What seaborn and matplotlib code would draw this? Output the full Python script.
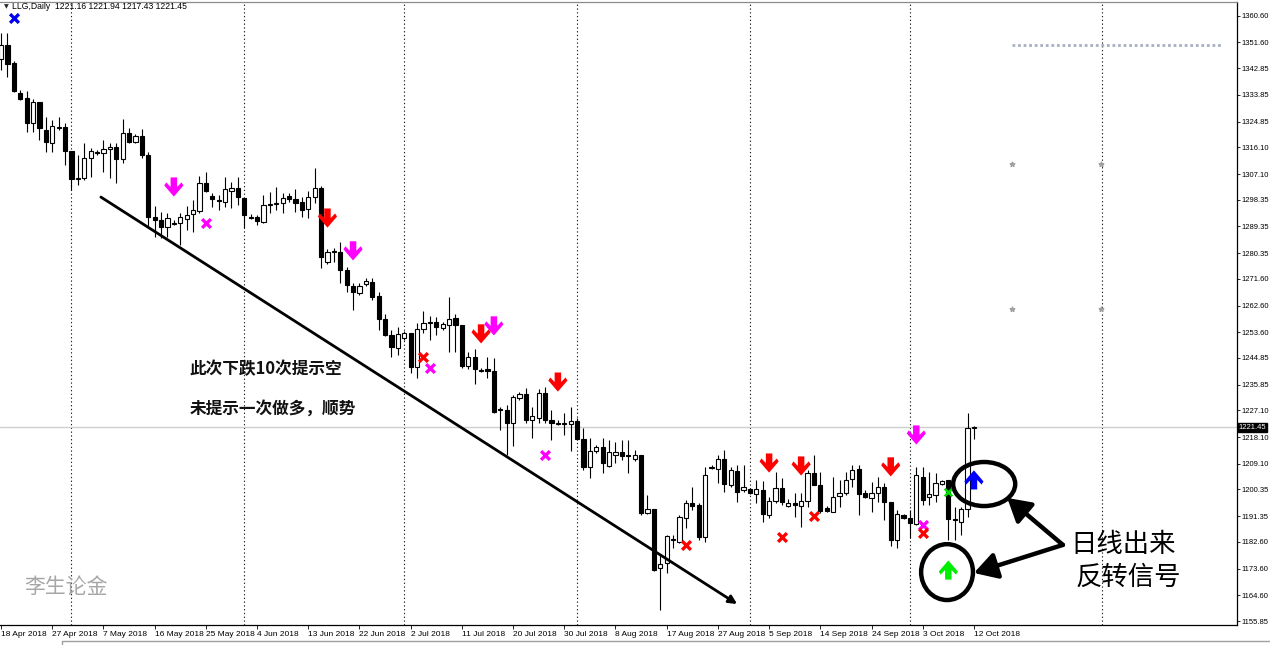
import numpy as np
import matplotlib
matplotlib.use("Agg")
import matplotlib.pyplot as plt
import seaborn as sns
from matplotlib.path import Path
from matplotlib.patches import Ellipse
from matplotlib.lines import Line2D
from matplotlib.transforms import ScaledTranslation, blended_transform_factory

# daily candles, 18 Apr 2018 .. 12 Oct 2018 (one bar per slot, Sundays included)
opens = [
    1346.0, 1350.8, 1344.7, 1334.5, 1332.8, 1324.4, 1331.5, 1322.0, 1317.6, 1322.7,
    1323.0, 1314.9, 1305.4, 1305.8, 1312.5, 1314.6, 1314.2, 1315.6, 1316.3, 1312.2,
    1321.0, 1318.0, 1320.0, 1313.6, 1292.6, 1291.6, 1289.2, 1290.2, 1290.5, 1291.9,
    1293.6, 1294.6, 1304.1, 1299.7, 1298.3, 1297.6, 1301.4, 1302.4, 1299.0, 1292.6,
    1292.6, 1290.9, 1296.6, 1297.0, 1297.3, 1299.7, 1298.7, 1297.6, 1295.3, 1299.3,
    1302.4, 1277.3, 1280.7, 1280.7, 1274.6, 1269.2, 1266.9, 1269.9, 1270.6, 1265.8,
    1258.1, 1252.6, 1248.2, 1251.6, 1253.3, 1241.8, 1254.7, 1256.7, 1257.0, 1255.0,
    1256.0, 1258.4, 1256.0, 1242.2, 1245.2, 1240.8, 1241.1, 1240.5, 1227.3, 1227.3,
    1222.9, 1231.3, 1232.7, 1223.9, 1224.6, 1233.0, 1223.9, 1222.9, 1222.5, 1222.5,
    1223.5, 1217.5, 1208.0, 1213.4, 1214.7, 1208.3, 1212.0, 1213.0, 1212.0, 1210.7,
    1212.0, 1192.4, 1193.8, 1173.8, 1175.5, 1183.3, 1182.6, 1190.7, 1195.8, 1195.1,
    1184.3, 1207.6, 1207.3, 1210.7, 1201.9, 1206.6, 1200.2, 1200.5, 1198.8, 1200.2,
    1191.7, 1196.5, 1200.9, 1194.8, 1195.8, 1194.8, 1196.5, 1205.9, 1201.9, 1194.1,
    1192.7, 1198.2, 1199.2, 1203.9, 1207.3, 1199.2, 1197.5, 1199.2, 1201.2, 1196.1,
    1183.3, 1191.7, 1190.7, 1188.7, 1204.6, 1197.8, 1198.5, 1202.2, 1203.6, 1190.4,
    1189.4, 1193.8, 1221.16,
]
highs = [
    1354.8, 1354.8, 1345.4, 1335.6, 1335.2, 1332.5, 1331.5, 1326.4, 1325.4, 1326.4,
    1324.4, 1314.9, 1313.6, 1317.6, 1315.9, 1315.3, 1318.6, 1317.6, 1317.6, 1325.7,
    1322.7, 1320.7, 1322.4, 1314.6, 1296.3, 1294.3, 1293.9, 1291.6, 1293.9, 1296.3,
    1298.3, 1306.4, 1307.8, 1300.7, 1300.0, 1306.1, 1304.4, 1306.1, 1299.0, 1293.6,
    1293.2, 1300.0, 1301.0, 1302.7, 1300.7, 1300.7, 1302.0, 1299.3, 1301.4, 1309.2,
    1303.1, 1281.7, 1282.1, 1284.1, 1275.7, 1270.2, 1270.2, 1271.9, 1271.9, 1267.2,
    1259.8, 1254.3, 1255.3, 1254.0, 1253.3, 1256.7, 1260.8, 1259.1, 1258.7, 1257.0,
    1265.5, 1259.8, 1256.0, 1246.9, 1247.9, 1241.5, 1245.2, 1244.9, 1228.3, 1229.0,
    1232.3, 1233.4, 1234.7, 1228.3, 1234.4, 1235.0, 1227.3, 1223.9, 1226.3, 1228.3,
    1224.6, 1221.2, 1217.8, 1215.4, 1217.8, 1217.1, 1216.4, 1217.1, 1217.1, 1213.7,
    1212.0, 1198.5, 1193.8, 1178.2, 1185.0, 1185.0, 1191.7, 1196.8, 1201.2, 1195.8,
    1208.0, 1208.7, 1212.0, 1213.7, 1208.0, 1208.7, 1208.7, 1200.9, 1203.6, 1203.2,
    1197.8, 1206.3, 1204.3, 1197.1, 1199.2, 1199.2, 1207.0, 1212.0, 1206.3, 1194.8,
    1204.6, 1203.6, 1206.3, 1208.7, 1208.7, 1200.2, 1202.9, 1204.6, 1202.6, 1196.1,
    1193.4, 1192.1, 1193.4, 1208.0, 1208.0, 1206.3, 1205.9, 1203.6, 1203.6, 1194.4,
    1194.4, 1226.3, 1221.94,
]
lows = [
    1342.3, 1340.0, 1334.9, 1332.2, 1321.3, 1321.3, 1318.6, 1314.6, 1314.6, 1322.0,
    1310.2, 1301.7, 1303.4, 1305.1, 1306.1, 1313.6, 1307.8, 1305.8, 1304.1, 1310.8,
    1317.6, 1317.6, 1312.5, 1289.2, 1285.8, 1285.5, 1285.8, 1289.9, 1283.1, 1288.2,
    1287.5, 1293.9, 1301.0, 1296.0, 1294.9, 1296.0, 1295.6, 1296.6, 1288.8, 1291.9,
    1289.9, 1290.5, 1293.9, 1294.9, 1293.9, 1297.6, 1294.3, 1292.6, 1292.2, 1297.3,
    1275.3, 1276.7, 1277.3, 1270.2, 1267.2, 1261.1, 1266.2, 1269.2, 1264.5, 1254.3,
    1252.3, 1245.2, 1245.9, 1250.9, 1239.8, 1238.1, 1253.3, 1250.9, 1252.6, 1254.3,
    1246.9, 1246.9, 1241.5, 1241.1, 1236.1, 1240.1, 1238.1, 1226.3, 1220.5, 1212.0,
    1215.1, 1230.6, 1222.9, 1217.8, 1222.9, 1222.9, 1217.1, 1222.2, 1218.8, 1213.4,
    1217.1, 1207.0, 1204.3, 1212.7, 1205.9, 1208.0, 1209.3, 1210.3, 1205.9, 1210.0,
    1191.7, 1192.1, 1172.8, 1159.6, 1172.1, 1180.6, 1182.3, 1187.3, 1193.4, 1183.3,
    1182.6, 1207.3, 1202.6, 1199.5, 1201.2, 1196.1, 1199.5, 1198.8, 1195.8, 1189.4,
    1190.7, 1195.8, 1195.1, 1194.4, 1191.1, 1187.7, 1194.4, 1201.9, 1192.4, 1192.7,
    1192.7, 1194.4, 1198.5, 1201.2, 1191.7, 1197.5, 1192.7, 1196.1, 1190.0, 1181.2,
    1180.6, 1190.4, 1184.0, 1188.4, 1195.1, 1195.1, 1196.1, 1201.9, 1183.3, 1183.3,
    1185.0, 1191.1, 1217.43,
]
closes = [
    1350.8, 1344.4, 1335.2, 1332.5, 1324.4, 1331.5, 1322.7, 1318.0, 1323.4, 1323.0,
    1314.9, 1305.4, 1305.8, 1312.5, 1314.9, 1314.2, 1315.6, 1316.3, 1312.2, 1321.0,
    1318.0, 1320.0, 1313.6, 1292.6, 1291.6, 1289.2, 1292.2, 1290.5, 1292.6, 1293.2,
    1294.9, 1304.1, 1301.4, 1298.7, 1298.0, 1302.0, 1302.4, 1299.3, 1293.2, 1292.2,
    1291.2, 1296.6, 1297.0, 1297.3, 1299.0, 1298.7, 1297.3, 1294.9, 1299.3, 1302.4,
    1279.0, 1280.7, 1281.1, 1274.6, 1269.6, 1267.2, 1269.2, 1270.9, 1265.5, 1258.1,
    1252.6, 1248.6, 1253.0, 1253.3, 1241.8, 1254.7, 1256.7, 1257.0, 1255.3, 1256.4,
    1258.1, 1256.0, 1242.2, 1245.2, 1241.1, 1240.5, 1240.5, 1226.6, 1227.6, 1222.9,
    1231.7, 1232.7, 1223.9, 1225.2, 1233.0, 1223.9, 1222.9, 1222.5, 1222.9, 1223.5,
    1217.5, 1208.0, 1213.4, 1214.7, 1209.3, 1213.0, 1213.0, 1211.7, 1211.7, 1212.0,
    1192.4, 1193.8, 1173.1, 1175.2, 1184.6, 1183.6, 1191.1, 1195.8, 1194.8, 1184.3,
    1205.3, 1208.0, 1210.7, 1202.2, 1207.0, 1199.5, 1201.2, 1199.2, 1200.5, 1192.1,
    1196.5, 1200.9, 1196.1, 1195.8, 1195.1, 1196.5, 1205.9, 1201.9, 1193.1, 1193.1,
    1197.8, 1199.2, 1203.6, 1207.0, 1198.8, 1197.8, 1199.2, 1201.2, 1196.1, 1183.3,
    1192.1, 1190.7, 1189.0, 1205.3, 1196.8, 1198.8, 1202.6, 1203.2, 1190.4, 1190.0,
    1193.8, 1221.2, 1221.45,
]

date_labels = ["18 Apr 2018", "27 Apr 2018", "7 May 2018", "16 May 2018", "25 May 2018",
               "4 Jun 2018", "13 Jun 2018", "22 Jun 2018", "2 Jul 2018", "11 Jul 2018",
               "20 Jul 2018", "30 Jul 2018", "8 Aug 2018", "17 Aug 2018", "27 Aug 2018",
               "5 Sep 2018", "14 Sep 2018", "24 Sep 2018", "3 Oct 2018", "12 Oct 2018"]
price_ticks = [1360.60, 1351.60, 1342.85, 1333.85, 1324.85, 1316.10, 1307.10, 1298.35,
               1289.35, 1280.35, 1271.60, 1262.60, 1253.60, 1244.85, 1235.85, 1227.10,
               1218.10, 1209.10, 1200.35, 1191.35, 1182.60, 1173.60, 1164.60, 1155.85]
month_starts = [11, 38, 63, 90, 117, 142, 172]
last_price = 1221.45

# indicator signals (bar index, price)
magenta_down_x = [27, 55, 77, 143]
magenta_down_y = [1302.7, 1281.1, 1255.7, 1218.8]
red_down_x = [51, 75, 87, 120, 125, 139]
red_down_y = [1292.2, 1253.0, 1236.7, 1209.3, 1208.3, 1208.0]
magenta_cross_x = [32, 67, 85, 144]
magenta_cross_y = [1290.5, 1241.5, 1212.0, 1188.4]
red_cross_x = [66, 107, 122, 127, 144]
red_cross_y = [1245.2, 1181.6, 1184.3, 1191.4, 1185.6]
blue_up_x, blue_up_y = [152], [1203.6]
green_up_x, green_up_y = [148], [1173.1]

sns.set_style("white")
plt.rcParams["font.family"] = ["Liberation Sans", "Noto Sans CJK SC", "DejaVu Sans"]

fig = plt.figure(figsize=(12.7, 6.45), dpi=100)
ax = fig.add_axes([0, 20 / 645, 1237 / 1270, 623 / 645])

o = np.array(opens); h = np.array(highs); l = np.array(lows); c = np.array(closes)
x = np.arange(len(c))
up = c >= o

# candles
ax.vlines(x, l, h, color="black", lw=0.8, zorder=3)
body_lo = np.minimum(o, c)
body_h = np.maximum(np.abs(c - o), 0.3)
ax.bar(x, body_h, bottom=body_lo, width=0.66, color=np.where(up, "white", "black"),
       edgecolor="black", linewidth=0.8, zorder=4)

for m in month_starts:
    ax.axvline(m, color="#222222", lw=0.8, ls=(0, (1.2, 2.2)), zorder=1)
ax.axhline(last_price, color="#cfcfcf", lw=1.0, zorder=1)

# arrow markers
down_verts = [(-0.17, 0.5), (0.17, 0.5), (0.17, 0.0), (0.40, 0.24), (0.5, 0.08), (0.0, -0.5),
              (-0.5, 0.08), (-0.40, 0.24), (-0.17, 0.0), (-0.17, 0.5)]
down_arrow = Path(down_verts, closed=True)
up_arrow = Path([(vx, -vy) for vx, vy in down_verts], closed=True)

sns.scatterplot(x=magenta_down_x, y=magenta_down_y, marker=down_arrow, s=190,
                color="#ff00ff", edgecolor="none", ax=ax, zorder=6)
sns.scatterplot(x=red_down_x, y=red_down_y, marker=down_arrow, s=190,
                color="#ff0000", edgecolor="none", ax=ax, zorder=6)
sns.scatterplot(x=blue_up_x, y=blue_up_y, marker=up_arrow, s=190,
                color="#0000ff", edgecolor="none", ax=ax, zorder=6)
sns.scatterplot(x=green_up_x, y=green_up_y, marker=up_arrow, s=190,
                color="#00ee00", edgecolor="none", ax=ax, zorder=6)

ax.scatter(magenta_cross_x, magenta_cross_y, marker="x", s=40, linewidths=2.4, color="#ff00ff", zorder=6)
ax.scatter(red_cross_x, red_cross_y, marker="x", s=40, linewidths=2.4, color="#ff0000", zorder=6)
ax.scatter([2], [1359.9], marker="x", s=40, linewidths=2.4, color="#0000ee", zorder=6)
ax.scatter([148], [1199.5], marker="x", s=30, linewidths=1.8, color="#00dd00", zorder=6)

# faint objects on the right
ax.plot([158.0, 190.8], [1350.8, 1350.8], color="#a8b0c0", lw=2.0, ls=(0, (1, 1)), zorder=1)
ax.scatter([158.0, 171.8, 158.0, 171.8], [1310.4, 1310.4, 1261.4, 1261.4], marker="*",
           s=12, color="#a0a0a0", zorder=2)

# trend line
ax.annotate("", xy=(115.0, 1161.6), xytext=(15.6, 1299.3),
            arrowprops=dict(arrowstyle="-|>", color="black", lw=2.0, mutation_scale=12,
                            shrinkA=0, shrinkB=0), zorder=5)

ax.text(29.5, 1241.1, "此次下跌10次提示空", fontsize=12, fontweight="bold",
        family=["Noto Sans CJK SC", "DejaVu Sans"], va="center", ha="left", color="#111111")
ax.text(29.5, 1227.6, "未提示一次做多，顺势", fontsize=12, fontweight="bold",
        family=["Noto Sans CJK SC", "DejaVu Sans"], va="center", ha="left", color="#111111")
ax.text(3.7, 1167.4, "李生论金", fontsize=15, family=["Noto Sans CJK SC", "DejaVu Sans"],
        va="center", ha="left", color="#a6a6a6")

# circles and call-out
ax.add_patch(Ellipse((153.6, 1202.2), 9.7, 14.9, fill=False, lw=3.2, color="black", zorder=7))
ax.add_patch(Ellipse((147.8, 1172.4), 8.1, 18.9, fill=False, lw=3.2, color="black", zorder=7))
for tip in [(157.2, 1197.5), (152.0, 1172.1)]:
    ax.annotate("", xy=tip, xytext=(165.9, 1181.6),
                arrowprops=dict(arrowstyle="-|>,head_length=0.55,head_width=0.32", color="black",
                                lw=3.2, mutation_scale=25, shrinkA=0, shrinkB=0), zorder=7)
ax.text(167.0, 1181.6, "日线出来", fontsize=19, family=["Noto Sans CJK SC", "DejaVu Sans"],
        va="center", ha="left", color="black")
ax.text(167.8, 1170.8, "反转信号", fontsize=19, family=["Noto Sans CJK SC", "DejaVu Sans"],
        va="center", ha="left", color="black")

# header
ax.text(4 / 1237, 0.992, "▼", transform=ax.transAxes, fontsize=4.5, va="center", ha="left",
        family=["DejaVu Sans"])
ax.text(12 / 1237, 0.992, "LLG,Daily  1221.16 1221.94 1217.43 1221.45", transform=ax.transAxes,
        fontsize=6.2, va="center", ha="left", color="black")

# axes
ax.set_xlim(-0.16, 193.1)
ax.set_ylim(1154.5, 1365.3)
ax.yaxis.tick_right()
ax.set_yticks(price_ticks)
ax.set_yticklabels([f"{v:.2f}" for v in price_ticks])
ax.set_xticks(np.arange(0, 8 * len(date_labels), 8))
ax.set_xticklabels(date_labels, ha="left")
off = ScaledTranslation(2 / 100, 0, fig.dpi_scale_trans)
for lbl in ax.get_xticklabels():
    lbl.set_transform(lbl.get_transform() + off)
ax.tick_params(axis="x", labelsize=6, length=3, width=0.6, pad=1.5, colors="black",
               direction="out", bottom=True)
ax.tick_params(axis="y", labelsize=5.5, length=2.5, width=0.6, pad=1, colors="black",
               direction="out", right=True)
ax.spines["left"].set_visible(False)
ax.spines["top"].set_color("#8c8c8c")
ax.spines["right"].set_color("black")
ax.spines["bottom"].set_color("black")
for s in ["top", "right", "bottom"]:
    ax.spines[s].set_linewidth(0.9)

trans = blended_transform_factory(ax.transAxes, ax.transData)
ax.text(1.0012, last_price, f"{last_price:.2f}", transform=trans, fontsize=5.5, color="white",
        va="center", ha="left", zorder=8,
        bbox=dict(boxstyle="square,pad=0.12", fc="black", ec="black"))

fig.add_artist(Line2D([62 / 1270, 1.0], [4 / 645, 4 / 645], color="#a0a0a0", lw=1))
fig.add_artist(Line2D([62 / 1270, 62 / 1270], [0, 4 / 645], color="#a0a0a0", lw=1))

fig.savefig("out.png", dpi=100, facecolor="white")
